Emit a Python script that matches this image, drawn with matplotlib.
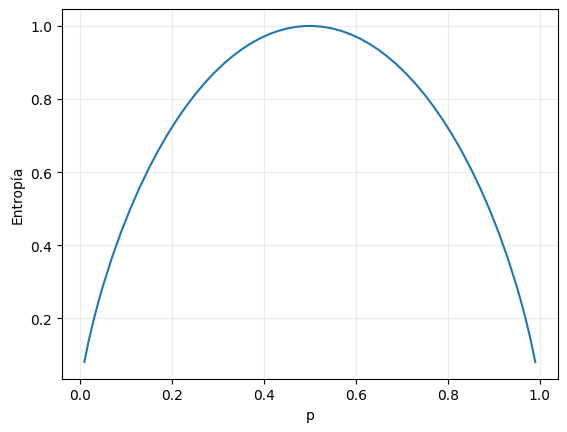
import matplotlib
matplotlib.use("Agg")
import matplotlib.pyplot as plt

# values (left half, mirrored for right half)
p_left = [0.01, 0.02, 0.03, 0.04, 0.05, 0.07, 0.09, 0.11, 0.13, 0.15, 0.17, 0.19,
          0.21, 0.23, 0.25, 0.27, 0.29, 0.31, 0.33, 0.35, 0.37, 0.39, 0.41,
          0.43, 0.45, 0.47, 0.49]
h_left = [0.0808, 0.1414, 0.1944, 0.2423, 0.2864, 0.3659, 0.4365, 0.4999, 0.5574,
          0.6098, 0.6577, 0.7015, 0.7415, 0.7780, 0.8113, 0.8415, 0.8687, 0.8932,
          0.9149, 0.9341, 0.9507, 0.9648, 0.9765, 0.9858, 0.9928, 0.9974, 0.9997]

p_vals = p_left + [0.50] + [round(1 - v, 2) for v in reversed(p_left)]
h_vals = h_left + [1.0] + list(reversed(h_left))

fig, ax = plt.subplots(figsize=(6.4, 4.8), dpi=100)
ax.plot(p_vals, h_vals, color="#1f77b4")
ax.set_xlabel("p")
ax.set_ylabel("Entropía")
ax.grid(True, alpha=0.25)
fig.savefig("out.png", dpi=100, bbox_inches="tight")
